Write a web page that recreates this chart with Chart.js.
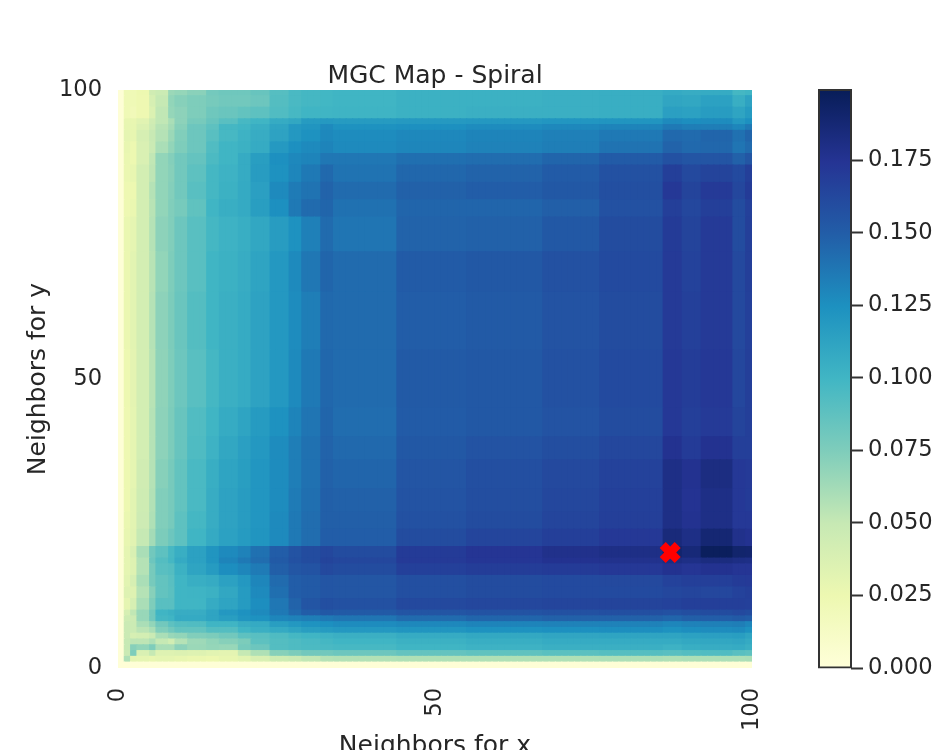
<!DOCTYPE html>
<html>
<head>
<meta charset="utf-8">
<title>MGC Map - Spiral</title>
<script src="https://cdn.jsdelivr.net/npm/chart.js@4/dist/chart.umd.min.js"></script>
<style>
  html, body { margin: 0; padding: 0; background: #fff; overflow: hidden; }
  #wrap { position: relative; width: 944px; height: 750px; }
  #mapChart { position: absolute; left: 0; top: 0; }
  #barChart { position: absolute; left: 760px; top: 0; }
</style>
</head>
<body>
<div id="wrap">
  <canvas id="mapChart" width="944" height="750"></canvas>
  <canvas id="barChart" width="184" height="750"></canvas>
</div>
<script>
// Test statistic, in thousandths. Neighbouring cells of the
// same shade are grouped, so columns and rows are given as bands.
const colEdges = [0,1,2,3,5,6,8,9,11,14,16,19,21,24,27,29,32,34,44,55,67,76,86,89,92,97,99,100];
const rowEdges = [0,1,2,3,4,5,6,7,8,9,10,12,14,16,18,19,21,24,27,31,36,40,45,55,65,72,78,81,84,87,89,91,93,94,95,97,99,100];

// first row is the bottom of the map
const mgcRows = [
  [2,2,2,2,2,2,2,2,2,2,2,2,2,2,2,2,2,2,2,2,2,2,2,2,2,2,2],
  [2,58,31,30,28,30,30,28,26,25,28,32,38,45,48,52,56,57,58,58,58,59,58,59,59,59,60],
  [2,48,75,38,50,35,35,36,35,32,31,50,58,72,76,80,80,82,85,87,89,91,90,92,93,90,88],
  [2,50,72,68,75,60,60,70,65,67,66,78,82,92,94,95,96,97,100,102,104,104,102,105,106,107,104],
  [2,50,53,53,58,50,43,56,64,68,72,76,88,92,94,96,98,100,103,105,107,107,107,109,110,111,108],
  [2,48,40,42,48,60,66,68,74,76,80,88,90,94,98,100,102,104,107,109,111,112,112,114,115,116,112],
  [2,48,47,54,60,74,80,86,86,92,92,100,104,108,112,116,118,120,122,124,125,126,124,126,127,128,124],
  [2,48,47,60,68,80,88,92,93,100,100,106,108,116,120,123,125,127,129,131,132,132,130,132,133,134,130],
  [2,45,46,66,80,98,100,108,108,112,116,122,124,130,132,134,136,138,143,146,148,148,146,149,150,152,150],
  [2,40,52,66,80,100,103,106,106,112,120,124,128,136,144,150,153,152,155,156,157,158,157,159,160,162,160],
  [2,30,40,60,75,90,90,100,100,107,112,118,126,137,147,155,158,157,162,163,164,165,166,168,168,168,167],
  [2,35,35,56,72,86,89,100,101,103,110,118,128,141,150,152,155,154,158,160,161,161,163,164,163,166,168],
  [2,32,40,60,78,86,90,100,105,107,114,120,130,143,150,152,155,154,158,160,161,162,166,168,168,170,171],
  [2,30,35,56,78,90,92,103,112,118,126,130,135,149,154,156,162,160,167,169,170,172,176,174,176,174,174],
  [2,30,35,56,82,92,98,108,114,122,131,136,142,152,157,160,165,163,171,173,176,177,182,180,183,181,180],
  [2,30,38,60,80,88,97,105,114,122,128,132,140,150,156,160,163,160,170,174,178,180,191,186,197,191,190],
  [2,28,33,50,62,76,82,88,100,108,114,118,122,128,136,142,150,150,160,164,168,172,185,180,188,178,176],
  [2,27,32,46,58,74,78,88,98,106,113,117,121,128,136,142,149,149,157,160,164,168,180,176,180,172,172],
  [2,25,32,45,57,74,78,86,96,106,113,117,121,127,135,141,149,148,156,159,163,167,180,175,180,172,170],
  [2,25,30,44,56,72,78,86,96,105,112,116,121,127,134,140,148,146,155,158,162,166,180,176,182,172,171],
  [2,24,30,42,56,70,76,84,94,102,110,115,120,127,134,140,147,144,153,156,159,163,176,170,176,168,168],
  [2,24,30,42,56,70,76,84,93,100,107,112,118,124,131,138,146,142,151,153,156,160,172,168,171,165,168],
  [2,25,31,42,55,69,75,82,90,98,104,107,113,120,128,136,145,143,152,153,157,161,172,169,172,163,168],
  [2,26,32,42,56,70,76,83,92,100,104,107,113,120,127,134,144,143,150,152,156,160,171,167,171,162,167],
  [2,26,32,42,55,68,75,82,90,100,103,106,112,120,128,137,146,143,151,153,157,161,171,166,171,162,168],
  [2,27,30,42,56,70,74,82,90,98,102,105,110,117,124,133,143,138,147,148,153,160,170,165,171,160,168],
  [2,24,27,42,55,68,74,78,87,100,105,108,116,125,136,143,146,140,146,146,149,157,168,163,168,160,167],
  [2,24,25,42,56,68,73,80,90,98,103,108,115,128,135,139,147,143,148,150,153,158,172,165,171,163,170],
  [2,26,28,42,53,68,72,80,88,98,102,107,117,124,130,136,144,139,145,147,151,157,168,162,165,161,168],
  [2,27,25,38,52,68,73,80,85,95,100,107,116,125,129,131,137,137,141,142,146,151,157,155,155,148,154],
  [2,28,25,38,48,60,68,75,82,93,100,103,107,119,125,128,131,128,130,132,134,139,147,144,145,138,143],
  [2,30,29,40,49,56,65,74,82,90,97,102,106,113,120,124,129,127,129,131,133,136,144,143,146,140,146],
  [2,29,29,36,46,55,62,72,82,88,98,100,105,112,120,122,128,124,125,127,129,131,136,134,134,130,136],
  [2,28,28,33,44,52,60,70,78,84,90,97,100,107,110,118,119,118,119,120,121,122,128,126,127,120,125],
  [2,22,20,24,37,52,67,70,75,81,83,86,88,93,97,100,100,101,103,104,104,105,115,114,117,112,118],
  [2,22,22,24,40,50,68,72,75,78,80,80,82,92,96,98,99,100,103,103,104,105,111,110,114,105,113],
  [2,22,22,25,44,47,65,67,71,79,81,81,84,91,96,98,99,100,103,103,104,105,108,106,107,98,100]
];

const bestX = [87.1];
const bestY = [20];
const axisTicks = [0, 50, 100];
const colorbarMax = 0.1992;

// YlGnBu
const cmap = ['#ffffd9','#edf8b1','#c7e9b4','#7fcdbb','#41b6c4','#1d91c0','#225ea8','#253494','#081d58'];
const textColor = '#262626';

function hexToRgb(h) {
    return [1, 3, 5].map(i => parseInt(h.substr(i, 2), 16));
}

function cellColor(value) {
    const t = Math.min(value / 1000 / colorbarMax, 1) * (cmap.length - 1);
    const i = Math.min(Math.floor(t), cmap.length - 2);
    const a = hexToRgb(cmap[i]), b = hexToRgb(cmap[i + 1]);
    const c = a.map((v, k) => Math.round(v + (b[k] - v) * (t - i)));
    return `rgb(${c[0]},${c[1]},${c[2]})`;
}

// one entry per map column, each pointing to its band
const xCenters = [];
const xBand = [];
for (let b = 0; b < colEdges.length - 1; b++) {
    for (let n = colEdges[b]; n < colEdges[b + 1]; n++) {
        xCenters.push(n + 0.5);
        xBand.push(b);
    }
}

// one stacked dataset per row band
const mapDatasets = mgcRows.map((row, r) => ({
    type: 'bar',
    data: xCenters.map(x => ({ x: x, y: rowEdges[r + 1] - rowEdges[r] })),
    backgroundColor: xBand.map(b => cellColor(row[b])),
    borderWidth: 0,
    inflateAmount: 0.6,
    barThickness: 6.34,
    order: 2
}));

mapDatasets.push({
    type: 'scatter',
    data: bestX.map((x, i) => ({ x: x, y: bestY[i] })),
    pointStyle: 'crossRot',
    pointRadius: 10.6,
    pointBorderWidth: 8.5,
    pointBorderColor: '#ff0000',
    pointBackgroundColor: '#ff0000',
    order: 1
});

new Chart(document.getElementById('mapChart'), {
    type: 'bar',
    data: { datasets: mapDatasets },
    options: {
        responsive: false,
        animation: false,
        events: [],
        layout: { padding: { left: 0, right: 192, top: 0, bottom: 0 } },
        plugins: {
            legend: { display: false },
            tooltip: { enabled: false },
            title: {
                display: true,
                text: 'MGC Map - Spiral',
                fullSize: false,
                color: textColor,
                font: { family: 'DejaVu Sans', size: 25, weight: 'normal' },
                padding: { top: 61, bottom: -1 }
            }
        },
        scales: {
            x: {
                type: 'linear',
                position: 'bottom',
                stacked: true,
                min: 0,
                max: 100,
                offset: false,
                afterBuildTicks: scale => { scale.ticks = axisTicks.map(v => ({ value: v })); },
                afterFit: scale => {
                    scale.height = 82;
                    // rotated end labels must not shrink the plot area
                    scale.paddingLeft = 0;
                    scale.paddingRight = 0;
                },
                grid: { display: false, drawTicks: false, offset: false },
                border: { display: false },
                ticks: {
                    color: textColor,
                    font: { family: 'DejaVu Sans', size: 22.6 },
                    minRotation: 90,
                    maxRotation: 90,
                    padding: 20
                },
                title: {
                    display: true,
                    text: 'Neighbors for x',
                    color: textColor,
                    font: { family: 'DejaVu Sans', size: 25 },
                    padding: { top: 0, bottom: -11 }
                }
            },
            y: {
                stacked: true,
                min: 0,
                max: 100,
                afterBuildTicks: scale => { scale.ticks = axisTicks.map(v => ({ value: v })); },
                afterFit: scale => {
                    scale.width = 118;
                    scale.paddingTop = 0;
                    scale.paddingBottom = 0;
                },
                grid: { display: false, drawTicks: false },
                border: { display: false },
                ticks: {
                    color: textColor,
                    font: { family: 'DejaVu Sans', size: 22.6 },
                    padding: 16
                },
                title: {
                    display: true,
                    text: 'Neighbors for y',
                    color: textColor,
                    font: { family: 'DejaVu Sans', size: 25 },
                    padding: { top: 23, bottom: 0 }
                }
            }
        }
    }
});

// colour bar
function barGradient(ctx) {
    const chart = ctx.chart;
    if (!chart.chartArea) return cmap[0];
    const y = chart.scales.y;
    const g = chart.ctx.createLinearGradient(0, y.getPixelForValue(0), 0, y.getPixelForValue(colorbarMax));
    cmap.forEach((c, i) => g.addColorStop(i / (cmap.length - 1), c));
    return g;
}

new Chart(document.getElementById('barChart'), {
    type: 'bar',
    data: {
        labels: [''],
        datasets: [{
            data: [colorbarMax],
            backgroundColor: barGradient,
            borderColor: '#333333',
            borderWidth: 2,
            borderSkipped: false,
            inflateAmount: 1,
            clip: false,
            barPercentage: 1,
            categoryPercentage: 1
        }]
    },
    options: {
        responsive: false,
        animation: false,
        events: [],
        layout: { padding: { left: 59, right: 0, top: 90, bottom: 82 } },
        plugins: { legend: { display: false }, tooltip: { enabled: false } },
        scales: {
            x: { display: false },
            y: {
                position: 'right',
                min: 0,
                max: colorbarMax,
                afterFit: scale => {
                    scale.width = 93;
                    scale.paddingTop = 0;
                    scale.paddingBottom = 0;
                },
                grid: {
                    drawOnChartArea: false,
                    drawTicks: true,
                    tickLength: 12,
                    tickColor: '#333333',
                    tickWidth: 2
                },
                border: { display: false },
                ticks: {
                    stepSize: 0.025,
                    includeBounds: false,
                    color: textColor,
                    font: { family: 'DejaVu Sans', size: 22.6 },
                    padding: 5,
                    callback: v => v.toFixed(3)
                }
            }
        }
    }
});
</script>
</body>
</html>
